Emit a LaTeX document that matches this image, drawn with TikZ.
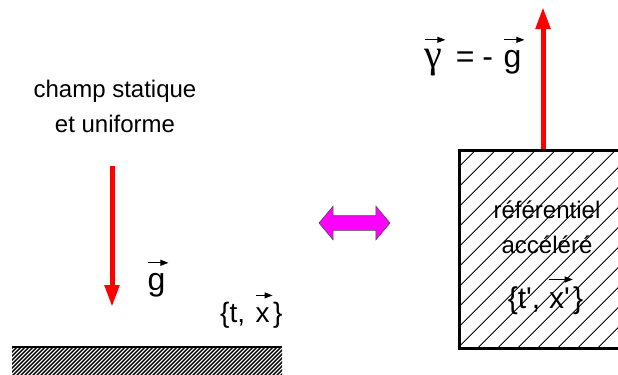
\documentclass[tikz,border=0pt]{standalone}
\usepackage{fontspec}
\setmainfont{Liberation Sans}[Ligatures=TeXOff]
\newfontfamily\grec{Liberation Serif}
\usetikzlibrary{arrows.meta,shapes.arrows}
\definecolor{magentavif}{RGB}{255,0,255}

% petite fleche de vecteur au-dessus d'une lettre
\newcommand{\vfl}[2][0.85em]{\tikz[baseline=(v.base)]{%
  \node[inner sep=0pt, outer sep=0pt, draw=none, fill=none] (v) {#2};
  \draw[line width=0.9bp, -{Triangle[length=8bp,width=6bp]}]
    ([yshift=#1]v.base west) -- ([yshift=#1, xshift=3bp]v.base east);}}

\begin{document}
\begin{tikzpicture}[
    x=1bp, y=-1bp,
    lab/.style    = {inner sep=0pt, font=\fontsize{24bp}{35bp}\selectfont, align=center},
    mid/.style    = {inner sep=0pt, font=\fontsize{28bp}{30bp}\selectfont},
    big/.style    = {inner sep=0pt, font=\fontsize{32bp}{34bp}\selectfont},
    bigger/.style = {inner sep=0pt, font=\fontsize{30bp}{32bp}\selectfont},
    champ/.style  = {line width=5bp, draw=red, -{Triangle[length=22bp,width=14bp]}},
    cadre/.style  = {draw, line width=2.5bp},
    hach/.style   = {line width=0.8bp},
    hachsol/.style = {line width=1.4bp}
  ]
  \clip (0,0) rectangle (618,374);

  % ===== Gauche : champ statique =====
  \node[lab, anchor=base] (txtchamp) at (115,132) {champ statique\\et uniforme};

  \coordinate (ghaut) at (112,166);
  \coordinate (gbas)  at (112,307);
  \draw[champ] (ghaut) -- (gbas);

  \node[big, anchor=base west] (gvec) at (147,290) {\vfl{g}};
  \node[mid, anchor=base west] (coordsol) at (220,322) {\{t,\hspace{10bp}\vfl[0.95em]{x}\}};

  % sol hachure
  \begin{scope}
    \clip (12,347) rectangle (282,380);
    \foreach \c in {-28,-24,...,282}
      \draw[hachsol] (\c,380) -- ++(40,-40);
  \end{scope}
  \coordinate (solg) at (12,347);
  \coordinate (sold) at (282,347);
  \draw[line width=2bp] (solg) -- (sold);

  % ===== Equivalence =====
  \node[double arrow, draw=black!70, fill=magentavif, line width=0.6bp,
        minimum height=71bp, inner sep=7bp, double arrow head extend=9.5bp,
        double arrow tip angle=100] (equiv) at (354.5,223) {};

  % ===== Droite : referentiel accelere =====
  \begin{scope}
    \clip (458,149) rectangle (640,347);
    \foreach \k in {0,...,19}
      \draw[hach] ({605.7+20*\k-347},347) -- ({605.7+20*\k-149},149);
  \end{scope}
  \node[cadre, minimum width=180bp, minimum height=198bp, anchor=north west] (ref) at (458,149) {};

  \node[lab, anchor=base] (txtref) at (547,253) {référentiel\\accéléré};
  \node[bigger, anchor=base] (coordref) at (545.5,308) {\{t', \vfl[0.95em]{x'}\}};

  \coordinate (pointe) at (543,7);
  \draw[champ] (ref.north -| pointe) -- (pointe);

  \node[big, anchor=base west] (gamma) at (424,67)
    {\vfl[0.85em]{\grec\fontsize{40bp}{40bp}\selectfont γ}\hspace{10bp}=\hspace{8bp}-\hspace{10bp}\vfl{g}};

\end{tikzpicture}
\end{document}
